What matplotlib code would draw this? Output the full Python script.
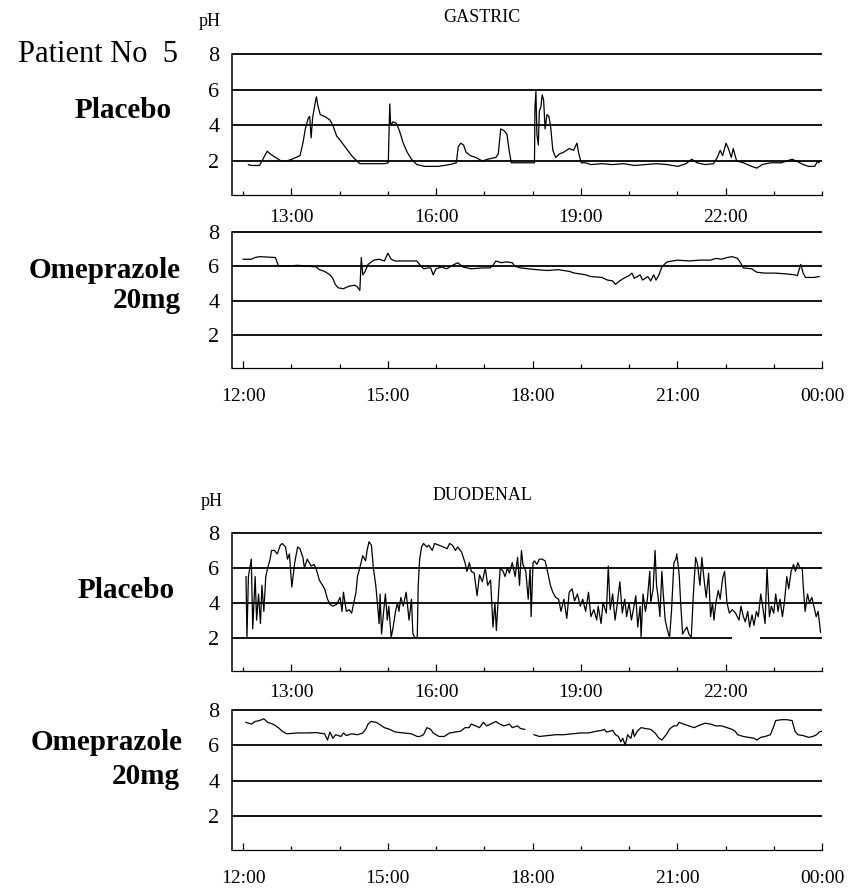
import numpy as np
import matplotlib
matplotlib.use("Agg")
import matplotlib.pyplot as plt

plt.rcParams['font.family'] = ['Liberation Serif', 'DejaVu Serif']

# gastric, placebo (time in hours, pH)
gas_pla_t = [12.11, 12.17, 12.34, 12.39, 12.50, 12.56, 12.67, 12.79, 12.90, 13.01,
             13.18, 13.24, 13.29, 13.35, 13.38, 13.41, 13.44, 13.49, 13.52, 13.55,
             13.60, 13.69, 13.80, 13.86, 13.94, 14.03, 14.14, 14.25, 14.36, 14.42,
             14.53, 14.93, 15.01, 15.04, 15.06, 15.11, 15.18, 15.24, 15.32, 15.40,
             15.49, 15.60, 15.77, 16.05, 16.28, 16.42, 16.46, 16.51, 16.57, 16.62,
             16.71, 16.82, 16.96, 17.07, 17.24, 17.29, 17.34, 17.41, 17.47, 17.52,
             17.56, 17.75, 18.04, 18.05, 18.07, 18.09, 18.12, 18.14, 18.17, 18.20,
             18.23, 18.26, 18.30, 18.34, 18.38, 18.42, 18.48, 18.56, 18.65, 18.76,
             18.85, 18.92, 18.96, 19.01, 19.10, 19.21, 19.44, 19.66, 19.89, 20.11,
             20.34, 20.56, 20.79, 21.01, 21.18, 21.30, 21.41, 21.58, 21.75, 21.83,
             21.89, 21.94, 22.01, 22.06, 22.12, 22.16, 22.23, 22.37, 22.54, 22.65,
             22.76, 22.93, 23.16, 23.38, 23.47, 23.61, 23.72, 23.85, 23.90, 23.94]
gas_pla_ph = [1.8, 1.75, 1.75, 2.0, 2.55, 2.4, 2.2, 2.0, 2.0, 2.1,
              2.3, 3.0, 3.8, 4.4, 4.5, 3.3, 4.4, 5.2, 5.6, 5.1,
              4.6, 4.5, 4.3, 4.0, 3.4, 3.1, 2.7, 2.3, 2.0, 1.85,
              1.85, 1.85, 1.9, 5.2, 4.0, 4.2, 4.1, 3.7, 3.0, 2.5,
              2.1, 1.8, 1.7, 1.7, 1.8, 1.9, 2.8, 3.0, 2.9, 2.5,
              2.3, 2.2, 2.0, 2.1, 2.2, 2.4, 3.8, 3.7, 3.5, 2.5,
              1.9, 1.9, 1.9, 5.0, 5.9, 3.5, 2.9, 4.8, 5.0, 5.7,
              5.4, 3.8, 4.6, 4.5, 3.8, 2.6, 2.2, 2.4, 2.5, 2.7,
              2.6, 3.0, 2.4, 1.9, 1.9, 1.8, 1.85, 1.8, 1.85, 1.75,
              1.8, 1.85, 1.8, 1.7, 1.85, 2.1, 1.9, 1.8, 1.85, 2.2,
              2.6, 2.3, 3.0, 2.7, 2.2, 2.7, 2.0, 1.9, 1.7, 1.6,
              1.8, 1.9, 1.9, 2.1, 2.0, 1.8, 1.7, 1.7, 1.95, 1.9]

# gastric, omeprazole 20mg
gas_ome_t = [12.00, 12.17, 12.25, 12.34, 12.67, 12.73, 12.90, 13.12, 13.35, 13.52,
             13.58, 13.69, 13.80, 13.86, 13.91, 13.97, 14.08, 14.20, 14.31, 14.37,
             14.42, 14.45, 14.48, 14.53, 14.59, 14.71, 14.82, 14.93, 15.00, 15.07,
             15.15, 15.38, 15.60, 15.66, 15.74, 15.83, 15.89, 15.94, 16.00, 16.11,
             16.22, 16.34, 16.45, 16.56, 16.73, 16.96, 17.12, 17.18, 17.24, 17.35,
             17.46, 17.58, 17.63, 17.75, 17.91, 18.08, 18.31, 18.53, 18.76, 18.87,
             18.99, 19.10, 19.21, 19.44, 19.55, 19.66, 19.72, 19.78, 19.89, 20.00,
             20.06, 20.11, 20.23, 20.28, 20.39, 20.45, 20.51, 20.56, 20.62, 20.68,
             20.73, 20.79, 21.01, 21.24, 21.47, 21.69, 21.80, 21.92, 22.03, 22.14,
             22.25, 22.31, 22.37, 22.54, 22.65, 22.82, 23.04, 23.27, 23.44, 23.49,
             23.53, 23.56, 23.61, 23.66, 23.83, 23.94]
gas_ome_ph = [6.4, 6.4, 6.5, 6.55, 6.5, 6.04, 6.0, 6.05, 6.0, 5.95,
              5.8, 5.7, 5.5, 5.3, 4.95, 4.75, 4.7, 4.85, 4.9, 4.8,
              4.6, 6.5, 5.5, 5.7, 6.1, 6.35, 6.4, 6.3, 6.75, 6.4,
              6.3, 6.3, 6.3, 6.1, 5.85, 5.9, 5.9, 5.5, 5.85, 5.95,
              5.85, 6.05, 6.2, 5.95, 5.85, 5.9, 5.9, 6.05, 6.3, 6.2,
              6.25, 6.2, 6.0, 5.9, 5.85, 5.8, 5.75, 5.8, 5.7, 5.6,
              5.55, 5.5, 5.4, 5.35, 5.2, 5.15, 4.95, 5.1, 5.3, 5.45,
              5.6, 5.3, 5.5, 5.2, 5.4, 5.15, 5.5, 5.2, 5.5, 5.95,
              6.1, 6.25, 6.35, 6.3, 6.35, 6.35, 6.45, 6.4, 6.5, 6.55,
              6.45, 6.2, 5.9, 5.85, 5.65, 5.6, 5.6, 5.55, 5.5, 5.45,
              5.85, 6.1, 5.6, 5.35, 5.35, 5.4]

# duodenal, placebo
duo_pla_t = [12.06, 12.08, 12.11, 12.17, 12.20, 12.25, 12.28, 12.32, 12.36, 12.39,
             12.43, 12.47, 12.51, 12.56, 12.59, 12.65, 12.71, 12.77, 12.81, 12.88,
             12.92, 12.96, 13.01, 13.07, 13.13, 13.18, 13.24, 13.27, 13.33, 13.41,
             13.47, 13.52, 13.58, 13.69, 13.75, 13.80, 13.86, 13.94, 14.01, 14.05,
             14.08, 14.14, 14.20, 14.25, 14.31, 14.34, 14.37, 14.42, 14.48, 14.54,
             14.57, 14.61, 14.66, 14.70, 14.75, 14.79, 14.82, 14.84, 14.87, 14.91,
             14.95, 14.99, 15.02, 15.07, 15.11, 15.16, 15.20, 15.23, 15.27, 15.32,
             15.38, 15.44, 15.49, 15.52, 15.56, 15.61, 15.63, 15.66, 15.70, 15.74,
             15.81, 15.85, 15.92, 15.97, 16.06, 16.15, 16.23, 16.28, 16.34, 16.40,
             16.45, 16.53, 16.60, 16.64, 16.69, 16.73, 16.79, 16.85, 16.90, 16.96,
             17.02, 17.07, 17.13, 17.18, 17.22, 17.25, 17.30, 17.33, 17.39, 17.43,
             17.48, 17.52, 17.58, 17.64, 17.69, 17.73, 17.77, 17.80, 17.86, 17.91,
             17.95, 17.97, 18.01, 18.04, 18.09, 18.14, 18.20, 18.26, 18.31, 18.37,
             18.42, 18.48, 18.54, 18.59, 18.65, 18.71, 18.76, 18.82, 18.87, 18.93,
             18.99, 19.04, 19.10, 19.16, 19.21, 19.27, 19.33, 19.36, 19.42, 19.46,
             19.53, 19.57, 19.61, 19.66, 19.71, 19.75, 19.81, 19.86, 19.91, 19.95,
             20.00, 20.05, 20.09, 20.14, 20.18, 20.23, 20.25, 20.29, 20.34, 20.38,
             20.43, 20.45, 20.50, 20.54, 20.57, 20.60, 20.64, 20.68, 20.71, 20.75,
             20.79, 20.84, 20.88, 20.93, 20.97, 20.99, 21.04, 21.07, 21.11, 21.15,
             21.20, 21.24, 21.29, 21.33, 21.38, 21.42, 21.47, 21.51, 21.56, 21.60,
             21.65, 21.69, 21.73, 21.76, 21.80, 21.85, 21.89, 21.94, 21.98, 22.03,
             22.08, 22.14, 22.21, 22.28, 22.32, 22.37, 22.41, 22.46, 22.50, 22.55,
             22.59, 22.64, 22.68, 22.73, 22.77, 22.82, 22.86, 22.91, 22.95, 23.00,
             23.04, 23.09, 23.13, 23.18, 23.22, 23.27, 23.31, 23.36, 23.41, 23.45,
             23.50, 23.54, 23.59, 23.61, 23.65, 23.70, 23.74, 23.79, 23.83, 23.88,
             23.92, 23.97]
duo_pla_ph = [5.5, 2.0, 5.5, 6.5, 2.5, 5.5, 3.0, 4.5, 2.8, 5.0,
              3.5, 5.5, 6.0, 6.5, 7.0, 7.0, 6.8, 7.3, 7.4, 7.2,
              6.5, 6.8, 4.9, 6.3, 7.2, 7.1, 6.6, 6.0, 6.5, 6.1,
              6.2, 5.9, 5.3, 4.8, 4.2, 3.9, 3.8, 3.9, 4.3, 3.5,
              4.6, 3.5, 3.6, 3.4, 4.2, 4.6, 5.5, 6.0, 6.7, 6.4,
              7.0, 7.5, 7.3, 6.0, 5.0, 3.8, 2.8, 4.5, 2.2, 3.4,
              4.5, 3.0, 3.8, 2.0, 2.6, 3.5, 4.0, 3.5, 4.3, 3.8,
              4.6, 3.0, 4.2, 2.2, 2.0, 2.0, 5.0, 6.5, 7.2, 7.4,
              7.2, 7.3, 7.0, 7.4, 7.3, 7.2, 7.1, 7.4, 7.3, 7.0,
              7.2, 6.9, 6.3, 5.8, 6.3, 5.8, 5.7, 4.4, 5.6, 5.2,
              6.0, 5.0, 5.3, 2.6, 4.0, 2.4, 4.8, 6.0, 5.8, 5.5,
              6.0, 5.7, 6.3, 5.5, 6.6, 5.0, 7.0, 6.2, 5.8, 4.2,
              6.0, 3.2, 6.3, 6.4, 6.2, 6.5, 6.5, 6.4, 5.8, 5.0,
              4.6, 4.3, 4.2, 3.5, 4.2, 3.1, 4.6, 4.8, 4.1, 4.5,
              3.8, 4.2, 3.5, 4.6, 3.2, 3.6, 3.0, 3.8, 2.8, 4.0,
              3.4, 6.1, 3.6, 4.5, 3.0, 3.8, 5.2, 3.4, 4.2, 3.2,
              4.0, 3.0, 3.6, 4.4, 2.6, 3.8, 2.0, 4.5, 3.5, 4.2,
              5.8, 4.0, 4.8, 7.0, 5.0, 4.4, 3.2, 5.8, 4.5, 3.0,
              2.5, 2.0, 3.5, 6.3, 6.5, 6.8, 5.6, 4.0, 2.2, 2.4,
              2.6, 2.2, 2.0, 4.3, 6.6, 6.2, 5.0, 6.6, 5.2, 4.3,
              5.7, 3.2, 4.0, 3.0, 4.0, 4.7, 4.2, 5.4, 5.8, 4.0,
              3.4, 3.6, 3.4, 3.0, 3.8, 3.2, 2.9, 3.5, 2.6, 3.3,
              2.7, 3.5, 3.2, 4.5, 3.8, 2.8, 6.0, 3.2, 3.8, 3.4,
              4.5, 3.5, 4.2, 3.2, 4.0, 5.5, 4.8, 5.8, 6.2, 5.8,
              6.3, 6.0, 6.0, 5.0, 3.5, 4.5, 4.0, 4.3, 3.8, 3.2,
              3.5, 2.3]

# duodenal, omeprazole 20mg (nan = recording gap)
duo_ome_t = [12.06, 12.17, 12.25, 12.34, 12.43, 12.51, 12.62, 12.73, 12.81, 12.90,
             13.13, 13.35, 13.52, 13.69, 13.75, 13.80, 13.86, 13.92, 14.03, 14.08,
             14.14, 14.25, 14.37, 14.48, 14.54, 14.59, 14.65, 14.76, 14.82, 14.93,
             15.04, 15.16, 15.32, 15.49, 15.61, 15.66, 15.74, 15.81, 15.89, 15.94,
             16.06, 16.17, 16.28, 16.40, 16.51, 16.60, 16.68, 16.73, 16.82, 16.90,
             16.98, 17.05, 17.13, 17.24, 17.32, 17.41, 17.52, 17.58, 17.69, 17.75,
             17.84, 17.93, 18.03, 18.14, 18.31, 18.48, 18.65, 18.82, 18.99, 19.16,
             19.33, 19.44, 19.49, 19.53, 19.61, 19.66, 19.72, 19.78, 19.83, 19.87,
             19.92, 19.97, 20.00, 20.04, 20.08, 20.11, 20.17, 20.25, 20.34, 20.45,
             20.54, 20.62, 20.68, 20.77, 20.85, 20.93, 20.99, 21.04, 21.13, 21.24,
             21.35, 21.47, 21.58, 21.69, 21.80, 21.92, 22.03, 22.14, 22.20, 22.25,
             22.37, 22.48, 22.59, 22.65, 22.73, 22.82, 22.93, 22.99, 23.04, 23.16,
             23.27, 23.38, 23.44, 23.50, 23.61, 23.72, 23.81, 23.89, 23.94, 24.00]
duo_ome_ph = [7.3, 7.2, 7.35, 7.4, 7.5, 7.3, 7.2, 7.0, 6.8, 6.65,
              6.7, 6.7, 6.72, 6.65, 6.3, 6.75, 6.4, 6.6, 6.5, 6.7,
              6.55, 6.65, 6.6, 6.7, 6.9, 7.2, 7.35, 7.3, 7.2, 7.0,
              6.9, 6.75, 6.7, 6.65, 6.5, 6.5, 6.6, 7.0, 6.9, 6.7,
              6.5, 6.5, 6.7, 6.75, 6.8, 7.0, 7.0, 7.2, 7.1, 7.0,
              7.3, 7.1, 7.2, 7.35, 7.2, 7.1, 7.2, 7.0, 7.1, 6.95,
              6.9, np.nan, 6.6, 6.5, 6.55, 6.6, 6.6, 6.65, 6.7, 6.7,
              6.8, 6.85, 6.9, 6.75, 6.8, 6.85, 6.6, 6.5, 6.2, 6.4,
              6.0, 6.6, 6.5, 6.4, 6.9, 6.5, 6.8, 7.0, 6.95, 6.9,
              6.7, 6.4, 6.3, 6.6, 6.95, 7.1, 7.1, 7.3, 7.2, 7.1,
              7.0, 7.15, 7.25, 7.2, 7.1, 7.1, 7.0, 6.9, 6.8, 6.6,
              6.5, 6.45, 6.4, 6.3, 6.45, 6.5, 6.6, 7.0, 7.4, 7.45,
              7.45, 7.4, 6.8, 6.6, 6.55, 6.45, 6.5, 6.6, 6.75, 6.8]

ph_levels = [2, 4, 6, 8]
top_ticks = [13, 16, 19, 22]
top_labels = ['13:00', '16:00', '19:00', '22:00']
bot_ticks = [12, 15, 18, 21, 24]
bot_labels = ['12:00', '15:00', '18:00', '21:00', '00:00']
hours = list(range(12, 25))

W, H = 856, 891
fig = plt.figure(figsize=(W / 100, H / 100), dpi=100)


def panel(top_px, bottom_px, t, ph, ticks, labels, xpad, gap=None):
    ax = fig.add_axes([232 / W, 1 - bottom_px / H, 590 / W, (bottom_px - top_px) / H])
    ax.set_xlim(11.77, 24.0)
    ax.set_ylim(0.1, 8.1)
    for lev in ph_levels:
        if gap is not None and lev == gap[0]:
            ax.hlines(lev, 11.77, gap[1], color='black', lw=1.3)
            ax.hlines(lev, gap[2], 24.0, color='black', lw=1.3)
        else:
            ax.axhline(lev, color='black', lw=1.3)
    ax.plot(t, ph, color='black', lw=0.9)
    for s in ['top', 'right']:
        ax.spines[s].set_visible(False)
    ax.spines['left'].set_bounds(0.1, 8)
    ax.spines['left'].set_linewidth(1.1)
    ax.spines['bottom'].set_linewidth(0.9)
    ax.set_yticks(ph_levels)
    ax.set_yticklabels([str(v) for v in ph_levels])
    ax.tick_params(axis='y', length=0, pad=9, labelsize=16)
    ax.set_xticks(ticks)
    ax.set_xticklabels(labels)
    ax.set_xticks([h for h in hours if h not in ticks], minor=True)
    ax.tick_params(axis='x', which='major', direction='in', length=5, width=0.9,
                   pad=xpad, labelsize=14)
    ax.tick_params(axis='x', which='minor', direction='in', length=3, width=0.9)
    return ax


panel(52.2, 194.9, gas_pla_t, gas_pla_ph, top_ticks, top_labels, 10)
panel(229.8, 368.4, gas_ome_t, gas_ome_ph, bot_ticks, bot_labels, 14)
panel(531.3, 670.6, duo_pla_t, duo_pla_ph, top_ticks, top_labels, 10, gap=(2, 22.14, 22.71))
panel(708.2, 849.6, duo_ome_t, duo_ome_ph, bot_ticks, bot_labels, 15)


def label(x, y, s, size, ha='center', weight='normal'):
    fig.text(x / W, 1 - y / H, s, fontsize=size, ha=ha, va='center', fontweight=weight)


label(210, 22, 'pH', 13)
label(482, 18, 'GASTRIC', 13)
label(178, 55, 'Patient No  5', 22, ha='right')
label(172, 110, 'Placebo', 21, ha='right', weight='bold')
label(181, 270, 'Omeprazole', 21, ha='right', weight='bold')
label(181, 301, '20mg', 21, ha='right', weight='bold')
label(212, 502, 'pH', 13)
label(482, 495, 'DUODENAL', 13)
label(175, 590, 'Placebo', 21, ha='right', weight='bold')
label(183, 743, 'Omeprazole', 21, ha='right', weight='bold')
label(180, 776, '20mg', 21, ha='right', weight='bold')

fig.savefig('out.png', dpi=100)
